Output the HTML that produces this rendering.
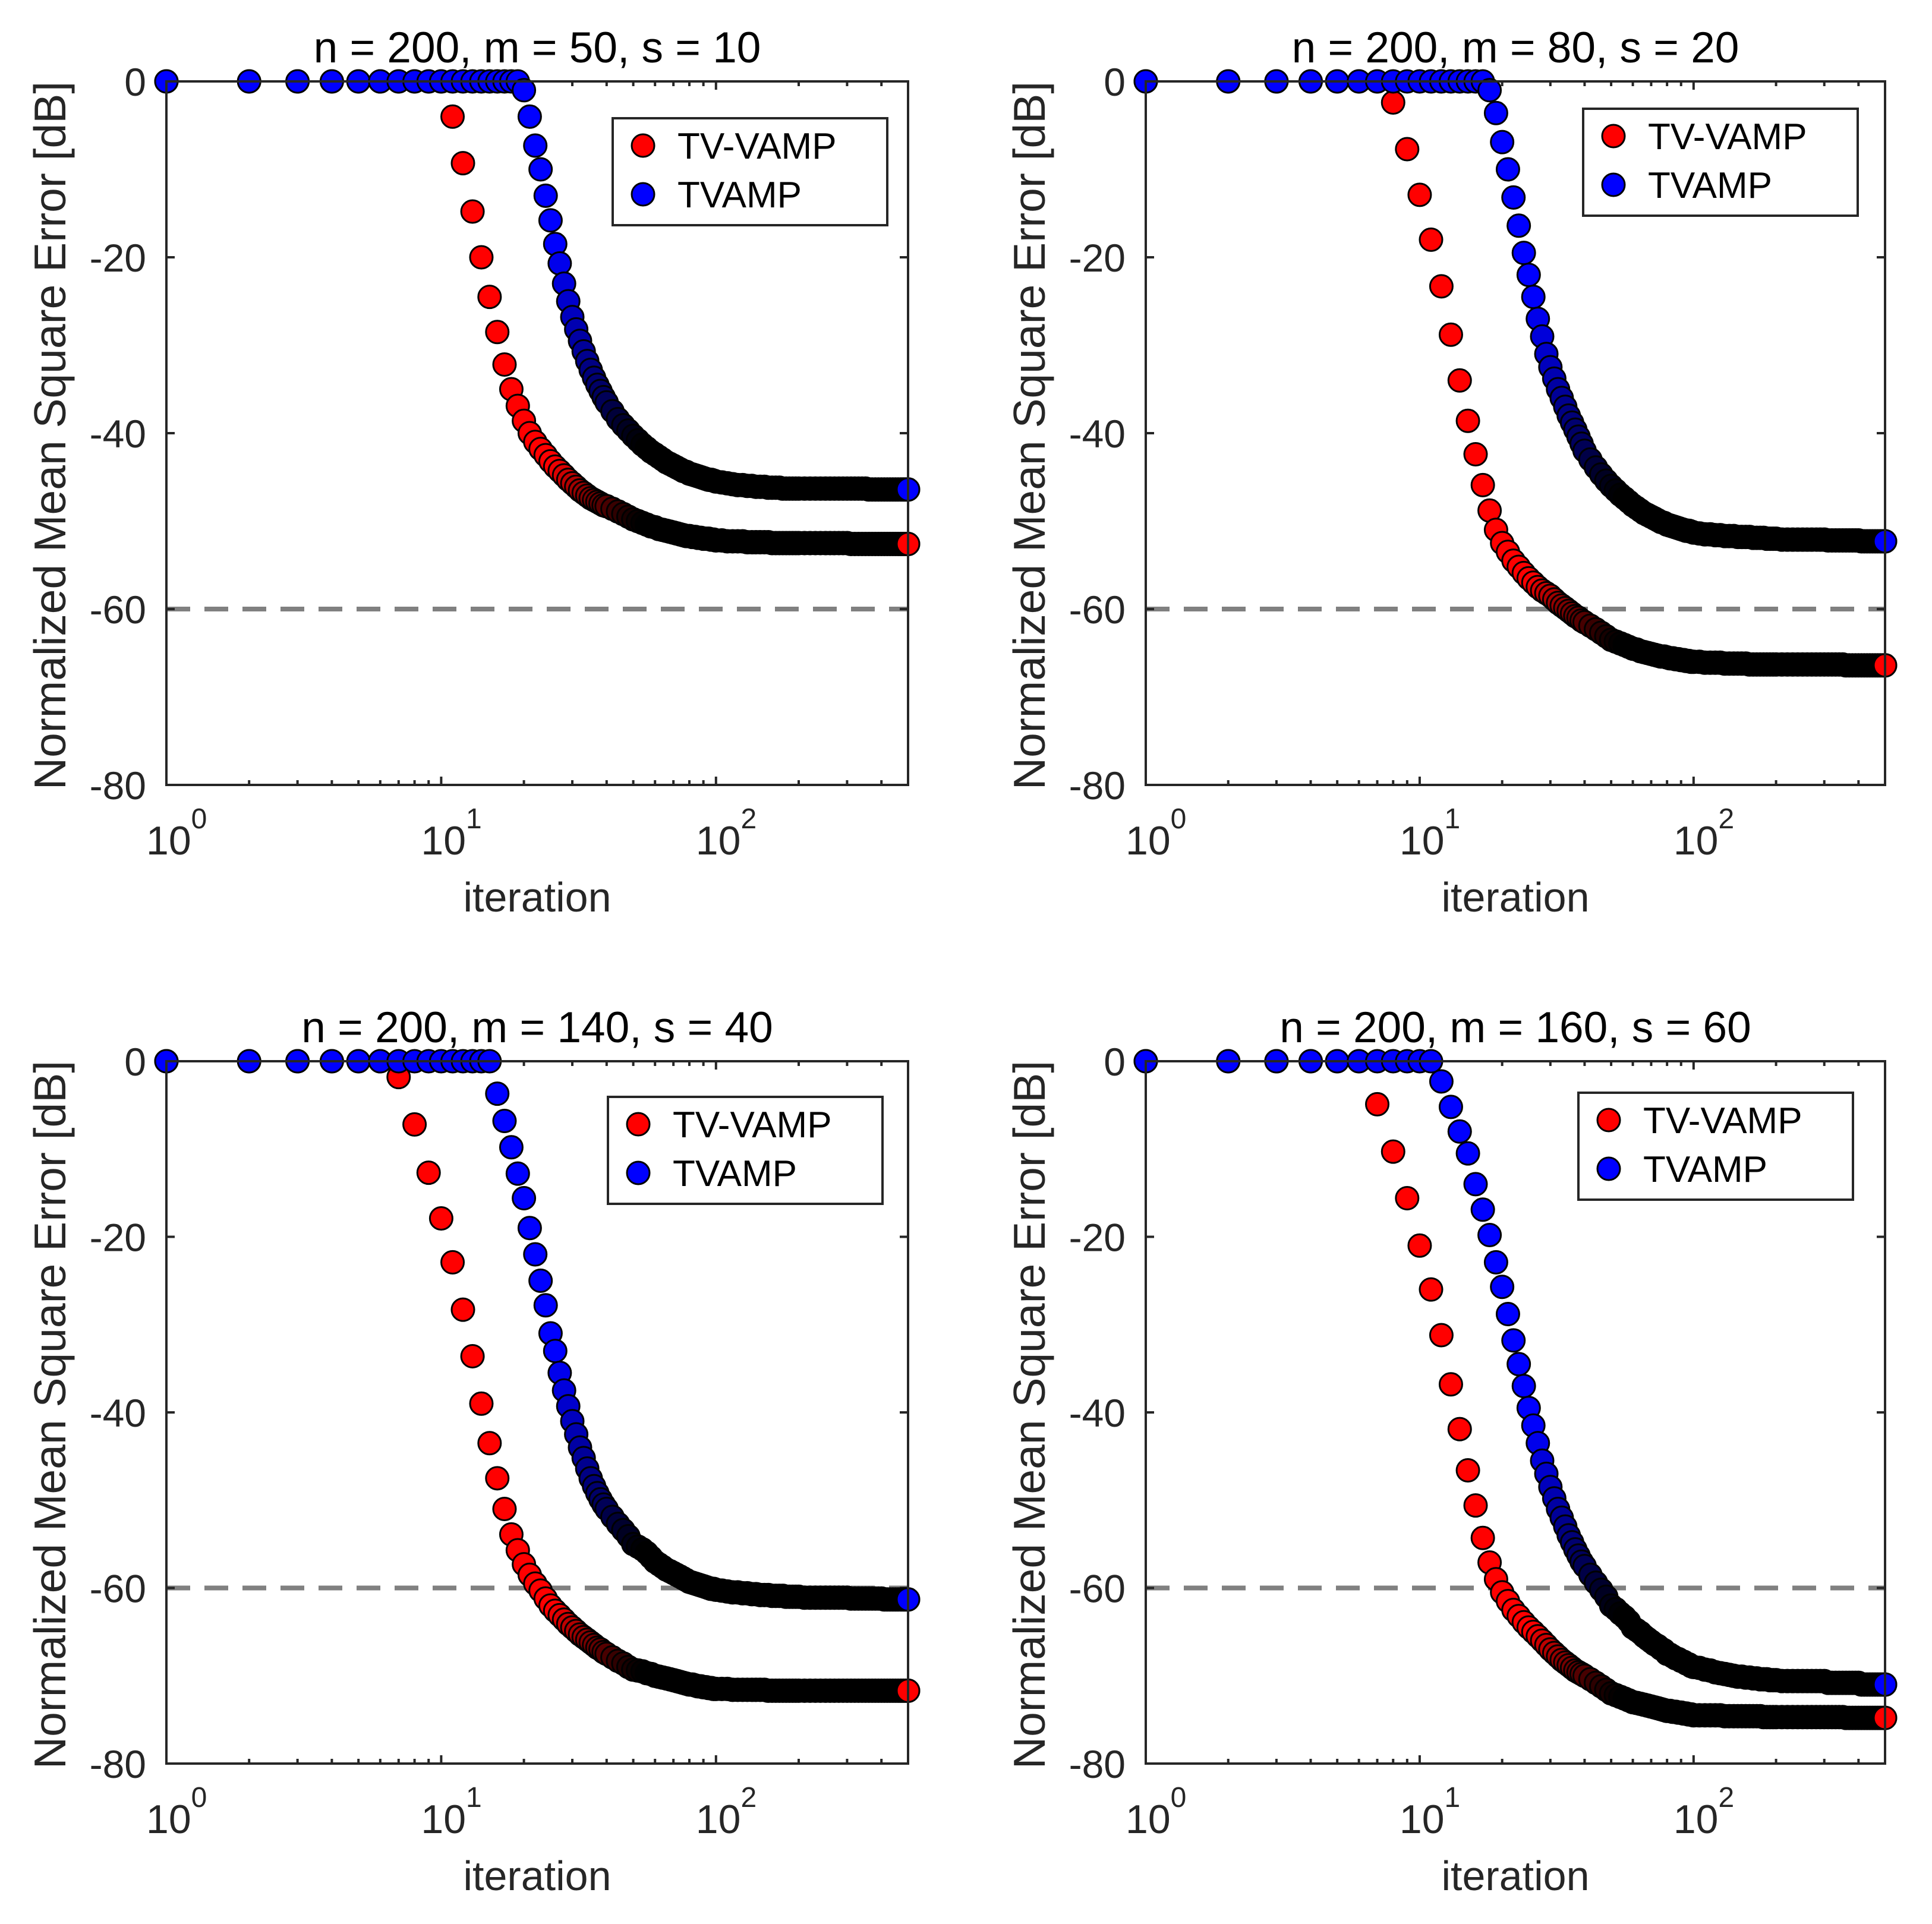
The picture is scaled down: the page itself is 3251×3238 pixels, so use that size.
<!DOCTYPE html>
<html><head><meta charset="utf-8">
<style>
html,body{margin:0;padding:0;background:#fff;}
svg{display:block;font-family:"Liberation Sans",Arial,sans-serif;}
</style></head>
<body>
<svg id="chart" xmlns="http://www.w3.org/2000/svg" width="3251" height="3238" viewBox="0 0 3251 3238"></svg>
<script>
const iterations = [1,2,3,4,5,6,7,8,9,10,11,12,13,14,15,16,17,18,19,20,21,22,23,24,25,26,27,28,29,30,31,32,33,34,35,36,37,38,39,40,
42,44,46,48,50,52,54,56,58,60,62,64,66,68,70,72,74,76,78,80,82,84,86,88,90,92,94,96,98,100,
105,110,115,120,125,130,135,140,145,150,155,160,165,170,175,180,185,190,195,200,
210,220,230,240,250,260,270,280,290,300,310,320,330,340,350,360,370,380,390,400,410,420,430,440,450,460,470,480,490,500];

const red1 = [0,0,0,0,0,0,0,0,0,0,-4,-9.3,-14.8,-20,-24.5,-28.5,-32.2,-35,-36.9,-38.6,-40,-41,-41.8,-42.5,-43.2,-43.8,-44.3,-44.8,-45.3,-45.7,-46.1,-46.5,-46.8,-47.1,-47.4,-47.6,-47.8,-48,-48.2,-48.3,
-48.6,-48.9,-49.2,-49.5,-49.8,-50,-50.2,-50.4,-50.6,-50.7,-50.9,-51,-51.1,-51.2,-51.3,-51.4,-51.5,-51.6,-51.7,-51.7,-51.8,-51.8,-51.9,-51.9,-52,-52,-52,-52.1,-52.1,-52.2,
-52.2,-52.3,-52.3,-52.3,-52.3,-52.4,-52.4,-52.4,-52.4,-52.4,-52.4,-52.5,-52.5,-52.5,-52.5,-52.5,-52.5,-52.5,-52.5,-52.5,
-52.5,-52.5,-52.5,-52.5,-52.5,-52.5,-52.5,-52.5,-52.5,-52.5,-52.6,-52.6,-52.6,-52.6,-52.6,-52.6,-52.6,-52.6,-52.6,-52.6,-52.6,-52.6,-52.6,-52.6,-52.6,-52.6,-52.6,-52.6,-52.6,-52.6];
const blue1 = [0,0,0,0,0,0,0,0,0,0,0,0,0,0,0,0,0,0,0,-1,-4,-7.3,-10,-13,-15.8,-18.5,-20.7,-23,-25,-26.8,-28.2,-29.5,-30.7,-31.8,-32.8,-33.7,-34.5,-35.2,-35.9,-36.5,
-37.5,-38.4,-39.1,-39.7,-40.3,-40.8,-41.3,-41.7,-42.1,-42.4,-42.7,-43,-43.3,-43.5,-43.7,-43.9,-44.1,-44.3,-44.4,-44.6,-44.7,-44.8,-44.9,-45,-45.1,-45.2,-45.3,-45.3,-45.4,-45.5,
-45.6,-45.7,-45.8,-45.9,-45.9,-46,-46,-46.1,-46.1,-46.1,-46.2,-46.2,-46.2,-46.2,-46.3,-46.3,-46.3,-46.3,-46.3,-46.3,
-46.3,-46.3,-46.3,-46.3,-46.3,-46.3,-46.3,-46.3,-46.3,-46.3,-46.3,-46.3,-46.3,-46.3,-46.3,-46.4,-46.4,-46.4,-46.4,-46.4,-46.4,-46.4,-46.4,-46.4,-46.4,-46.4,-46.4,-46.4,-46.4,-46.4];

const red2 = [0,0,0,0,0,0,0,-2.4,-7.7,-12.9,-18,-23.3,-28.8,-34,-38.6,-42.4,-45.9,-48.8,-51,-52.5,-53.5,-54.5,-55.2,-55.9,-56.5,-57,-57.5,-57.9,-58.2,-58.5,-58.9,-59.3,-59.6,-59.9,-60.2,-60.5,-60.8,-61,-61.3,-61.5,
-61.9,-62.3,-62.7,-63.1,-63.5,-63.7,-63.9,-64.1,-64.3,-64.5,-64.6,-64.8,-64.9,-65,-65.1,-65.2,-65.3,-65.4,-65.4,-65.5,-65.6,-65.6,-65.7,-65.7,-65.8,-65.8,-65.9,-65.9,-66,-66,
-66,-66.1,-66.1,-66.1,-66.1,-66.2,-66.2,-66.2,-66.2,-66.2,-66.2,-66.3,-66.3,-66.3,-66.3,-66.3,-66.3,-66.3,-66.3,-66.3,
-66.3,-66.3,-66.3,-66.3,-66.3,-66.3,-66.3,-66.3,-66.3,-66.3,-66.3,-66.3,-66.3,-66.3,-66.3,-66.4,-66.4,-66.4,-66.4,-66.4,-66.4,-66.4,-66.4,-66.4,-66.4,-66.4,-66.4,-66.4,-66.4,-66.4];
const blue2 = [0,0,0,0,0,0,0,0,0,0,0,0,0,0,0,0,0,-1,-3.6,-6.9,-10,-13.2,-16.4,-19.5,-22,-24.5,-27,-29,-31,-32.5,-33.8,-35,-36,-37,-38,-38.8,-39.6,-40.4,-41.2,-42,
-43,-43.9,-44.7,-45.4,-46,-46.5,-47,-47.4,-47.8,-48.2,-48.5,-48.8,-49.1,-49.3,-49.5,-49.7,-49.9,-50.1,-50.2,-50.4,-50.5,-50.6,-50.7,-50.8,-50.9,-51,-51.1,-51.1,-51.2,-51.3,
-51.4,-51.5,-51.5,-51.6,-51.6,-51.7,-51.7,-51.7,-51.8,-51.8,-51.8,-51.8,-51.9,-51.9,-51.9,-51.9,-52,-52,-52,-52,
-52.1,-52.1,-52.1,-52.1,-52.1,-52.1,-52.1,-52.1,-52.1,-52.1,-52.2,-52.2,-52.2,-52.2,-52.2,-52.2,-52.2,-52.2,-52.2,-52.2,-52.3,-52.3,-52.3,-52.3,-52.3,-52.3,-52.3,-52.3,-52.3,-52.3];

const red3 = [0,0,0,0,0,0,-1.8,-7.2,-12.7,-17.9,-22.9,-28.3,-33.6,-39,-43.5,-47.5,-51,-53.9,-55.7,-57.3,-58.5,-59.5,-60.3,-61.2,-62,-62.6,-63.1,-63.6,-64.1,-64.5,-64.9,-65.3,-65.6,-65.9,-66.2,-66.5,-66.8,-67,-67.3,-67.5,
-67.9,-68.3,-68.6,-69,-69.3,-69.4,-69.5,-69.7,-69.8,-70,-70.1,-70.2,-70.3,-70.4,-70.5,-70.6,-70.7,-70.8,-70.9,-71,-71,-71.1,-71.2,-71.2,-71.3,-71.3,-71.4,-71.4,-71.5,-71.5,
-71.5,-71.5,-71.6,-71.6,-71.6,-71.6,-71.6,-71.6,-71.6,-71.6,-71.7,-71.7,-71.7,-71.7,-71.7,-71.7,-71.7,-71.7,-71.7,-71.7,
-71.7,-71.7,-71.7,-71.7,-71.7,-71.7,-71.7,-71.7,-71.7,-71.7,-71.7,-71.7,-71.7,-71.7,-71.7,-71.7,-71.7,-71.7,-71.7,-71.7,-71.7,-71.7,-71.7,-71.7,-71.7,-71.7,-71.7,-71.7,-71.7,-71.7];
const blue3 = [0,0,0,0,0,0,0,0,0,0,0,0,0,0,0,-3.7,-6.8,-9.8,-12.8,-15.6,-19,-22,-25,-27.8,-31,-33,-35.5,-37.5,-39.3,-41,-42.5,-44,-45.2,-46.4,-47.5,-48.4,-49.2,-49.9,-50.5,-51,
-51.9,-52.7,-53.4,-54.1,-55,-55.3,-55.6,-56,-56.5,-57,-57.3,-57.6,-57.9,-58.1,-58.3,-58.5,-58.7,-58.9,-59.1,-59.3,-59.4,-59.5,-59.6,-59.7,-59.8,-59.9,-60,-60.1,-60.1,-60.2,
-60.3,-60.4,-60.5,-60.5,-60.6,-60.6,-60.7,-60.7,-60.8,-60.8,-60.8,-60.9,-60.9,-60.9,-60.9,-61,-61,-61,-61,-61,
-61.1,-61.1,-61.1,-61.1,-61.1,-61.1,-61.1,-61.1,-61.1,-61.1,-61.2,-61.2,-61.2,-61.2,-61.2,-61.2,-61.2,-61.2,-61.2,-61.2,-61.3,-61.3,-61.3,-61.3,-61.3,-61.3,-61.3,-61.3,-61.3,-61.3];

const red4 = [0,0,0,0,0,0,-4.9,-10.3,-15.6,-21,-26,-31.2,-36.8,-41.9,-46.6,-50.6,-54.3,-57.1,-59,-60.5,-61.5,-62.5,-63.2,-63.9,-64.5,-65,-65.5,-66,-66.5,-67,-67.4,-67.8,-68.2,-68.5,-68.8,-69.1,-69.4,-69.6,-69.8,-70,
-70.4,-70.8,-71.2,-71.6,-72,-72.2,-72.4,-72.6,-72.8,-73,-73.1,-73.2,-73.3,-73.4,-73.5,-73.6,-73.7,-73.8,-73.9,-74,-74,-74.1,-74.1,-74.2,-74.2,-74.3,-74.3,-74.4,-74.4,-74.5,
-74.5,-74.5,-74.5,-74.5,-74.5,-74.6,-74.6,-74.6,-74.6,-74.6,-74.6,-74.6,-74.6,-74.6,-74.6,-74.7,-74.7,-74.7,-74.7,-74.7,
-74.7,-74.7,-74.7,-74.7,-74.7,-74.7,-74.7,-74.7,-74.7,-74.7,-74.7,-74.7,-74.7,-74.7,-74.7,-74.8,-74.8,-74.8,-74.8,-74.8,-74.8,-74.8,-74.8,-74.8,-74.8,-74.8,-74.8,-74.8,-74.8,-74.8];
const blue4 = [0,0,0,0,0,0,0,0,0,0,0,-2.3,-5.2,-8,-10.5,-14,-16.9,-19.8,-22.9,-25.7,-28.8,-31.8,-34.5,-37,-39.5,-41.5,-43.5,-45.5,-47,-48.5,-49.8,-51,-52,-53,-54,-54.8,-55.6,-56.3,-57,-57.5,
-58.5,-59.4,-60.2,-61,-62,-62.4,-62.9,-63.3,-63.8,-64.5,-64.8,-65.1,-65.5,-65.8,-66.1,-66.4,-66.6,-66.9,-67.1,-67.5,-67.6,-67.8,-68,-68.1,-68.3,-68.4,-68.6,-68.7,-68.9,-69,
-69.1,-69.3,-69.4,-69.6,-69.7,-69.8,-69.9,-70,-70.1,-70.1,-70.2,-70.2,-70.3,-70.3,-70.4,-70.4,-70.4,-70.5,-70.5,-70.5,
-70.6,-70.6,-70.6,-70.6,-70.6,-70.6,-70.6,-70.6,-70.6,-70.6,-70.8,-70.8,-70.8,-70.8,-70.8,-70.8,-70.8,-70.8,-70.8,-70.8,-71,-71,-71,-71,-71,-71,-71,-71,-71,-71];

const panelTitles = ["n = 200, m = 50, s = 10","n = 200, m = 80, s = 20","n = 200, m = 140, s = 40","n = 200, m = 160, s = 60"];
const yTicks = [0,-20,-40,-60,-80];
const xDecades = [0,1,2];
const xMin = 1, xMax = 500, yMin = -80, yMax = 0;
const thresholdDb = -60;
const legendLabels = ["TV-VAMP","TVAMP"];

const NS = "http://www.w3.org/2000/svg";
const svg = document.getElementById("chart");
function mk(tag, attrs, parent){
  const e = document.createElementNS(NS, tag);
  for (const k in attrs) e.setAttribute(k, attrs[k]);
  (parent||svg).appendChild(e);
  return e;
}
const panels = [
  {x0:280, x1:1528, y0:137, y1:1321, red:red1, blue:blue1, lx:1031, ly:199},
  {x0:1928, x1:3172, y0:137, y1:1321, red:red2, blue:blue2, lx:2664, ly:183},
  {x0:280, x1:1528, y0:1786, y1:2968, red:red3, blue:blue3, lx:1023, ly:1846},
  {x0:1928, x1:3172, y0:1786, y1:2968, red:red4, blue:blue4, lx:2656, ly:1839}
];
const INK = "#262626";
function shade(hex, f){
  const r = parseInt(hex.slice(1,3),16), g = parseInt(hex.slice(3,5),16), b = parseInt(hex.slice(5,7),16);
  return `rgb(${Math.round(r*f)},${Math.round(g*f)},${Math.round(b*f)})`;
}
panels.forEach((p, pi) => {
  const g = mk("g", {});
  
  
  const xs = v => p.x0 + (Math.log10(v) - Math.log10(xMin)) / (Math.log10(xMax) - Math.log10(xMin)) * (p.x1 - p.x0);
  const ys = v => p.y0 + (yMax - v) / (yMax - yMin) * (p.y1 - p.y0);

  const th = mk("line", {x1:p.x0, x2:p.x1, y1:ys(thresholdDb), y2:ys(thresholdDb), stroke:"#808080", "stroke-width":8, "stroke-dasharray":"40 24"}, g);
  
  

  yTicks.forEach(t => {
    const y = ys(t);
    mk("line", {x1:p.x0, x2:p.x0+14, y1:y, y2:y, stroke:INK, "stroke-width":4}, g);
    mk("line", {x1:p.x1, x2:p.x1-14, y1:y, y2:y, stroke:INK, "stroke-width":4}, g);
    const tl = mk("text", {x:p.x0-34, y:y+24, "text-anchor":"end", "font-size":66, fill:INK}, g);
    tl.textContent = String(t);
    
    
  });
  for (let d = 0; d <= 2; d++) {
    for (let k = 1; k <= 9; k++) {
      const v = k * Math.pow(10, d);
      if (v > xMax) continue;
      const x = xs(v), len = k === 1 ? 14 : 8;
      mk("line", {x1:x, x2:x, y1:p.y1, y2:p.y1-len, stroke:INK, "stroke-width":4}, g);
      mk("line", {x1:x, x2:x, y1:p.y0, y2:p.y0+len, stroke:INK, "stroke-width":4}, g);
    }
  }
  xDecades.forEach(d => {
    const x = xs(Math.pow(10, d));
    const tl = mk("text", {x:x-34, y:p.y1+117, "font-size":68, fill:INK}, g);
    
    
    tl.appendChild(document.createTextNode("10"));
    const sp = mk("tspan", {dy:-44, "font-size":48}, tl);
    sp.textContent = String(d);
  });

  // markers packed densely (per-iteration spacing) darken toward black, mimicking edge overlap
  const drawSeries = (vals, color, name) => {
    const sg = mk("g", {}, g);
    
    
    iterations.forEach((it, i) => {
      const spacing = xs(it + 1) - xs(it);
      const f = Math.max(0, Math.min(1, (spacing - 3.6) / 4));
      const c = mk("circle", {cx:xs(it), cy:ys(vals[i]), r:19, fill:shade(color, f), stroke:"#000", "stroke-width":3}, sg);
      
      
    });
  };
  drawSeries(p.red, "#ff0000", "tv-vamp-series");
  drawSeries(p.blue, "#0000ff", "tvamp-series");
  [[p.red, "#ff0000"], [p.blue, "#0000ff"]].forEach(s => {
    const n = iterations.length - 1;
    const c = mk("circle", {cx:xs(iterations[n]), cy:ys(s[0][n]), r:19, fill:s[1], stroke:"#000", "stroke-width":3}, g);
    
    
  });

  const box = mk("rect", {x:p.x0, y:p.y0, width:p.x1-p.x0, height:p.y1-p.y0, fill:"none", stroke:INK, "stroke-width":4}, g);
  
  

  const tt = mk("text", {x:(p.x0+p.x1)/2, y:p.y0-32, "text-anchor":"middle", "font-size":73, fill:"#000"}, g);
  tt.textContent = panelTitles[pi];
  
  

  const xl = mk("text", {x:(p.x0+p.x1)/2, y:p.y1+213, "text-anchor":"middle", "font-size":70, fill:INK}, g);
  xl.textContent = "iteration";
  
  

  const cy = (p.y0+p.y1)/2 + 4, cx = p.x0 - 170;
  const yl = mk("text", {x:cx, y:cy, "text-anchor":"middle", "font-size":75, fill:INK, transform:`rotate(-90 ${cx} ${cy})`}, g);
  yl.textContent = "Normalized Mean Square Error [dB]";
  
  

  const lg = mk("g", {}, g);
  
  
  mk("rect", {x:p.lx, y:p.ly, width:462, height:180, fill:"#fff", stroke:INK, "stroke-width":4}, lg);
  [["#ff0000", 46], ["#0000ff", 128]].forEach((e, i) => {
    const le = mk("g", {}, lg);
    
    
    mk("circle", {cx:p.lx+51, cy:p.ly+e[1], r:19, fill:e[0], stroke:"#000", "stroke-width":3}, le);
    const t = mk("text", {x:p.lx+109, y:p.ly+e[1]+22, "font-size":62, fill:"#000"}, le);
    t.textContent = legendLabels[i];
  });
});
</script>
</body></html>
